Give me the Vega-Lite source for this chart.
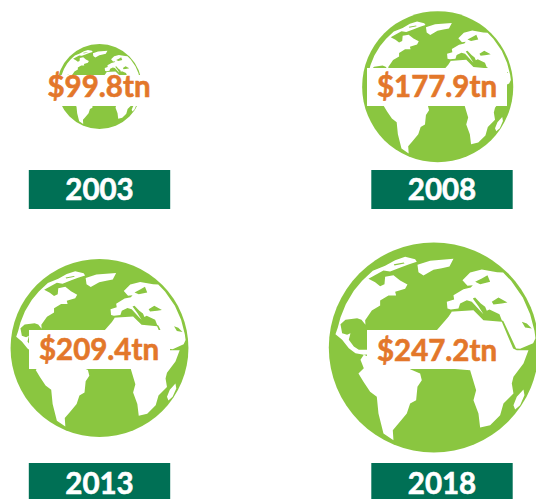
{
"$schema":"https://vega.github.io/schema/vega-lite/v6.json",
"width":536,"height":499,"padding":0,"autosize":"none",
"background":"white",
"view":{"stroke":null},
"data":{"values":[
{"year":2003,"value":99.8,"label":"$99.8tn"},
{"year":2008,"value":177.9,"label":"$177.9tn"},
{"year":2013,"value":209.4,"label":"$209.4tn"},
{"year":2018,"value":247.2,"label":"$247.2tn"}
]},
"layer":[
{"mark":{"type":"point","shape":"circle","filled":true,"fill":"#8AC640","opacity":1},
 "encoding":{
  "x":{"field":"year","type":"quantitative","axis":null,"scale":{"domain":[2003,2008,2013,2018],"range":[99.5,437.7,99.5,433.8]}},
  "y":{"field":"year","type":"quantitative","axis":null,"scale":{"domain":[2003,2008,2013,2018],"range":[86.5,86.7,348,347.5]}},
  "size":{"field":"value","type":"quantitative","legend":null,"scale":{"type":"pow","exponent":2,"domain":[0,247.2],"range":[0,44100]}}
 }},
{"mark":{"type":"point","filled":true,"fill":"white","opacity":1,
  "shape":"M-183,-230 L-146,-245 -116,-262 -86,-272 -56,-265 -51,-257 -76,-249 -100,-240 -131,-228 -151,-231 -196,-206 -176,-196 -161,-184 -148,-190 -146,-212 -121,-217 -101,-201 -79,-189 -86,-176 -116,-167 -113,-156 -136,-156 -161,-141 -161,-126 -186,-111 -206,-82 -205,-68 -217,-83 -230,-88 -265,-83 -280,-70 -275,-43 -260,-38 -250,-43 -255,-23 -240,-3 -225,7 -190,7 -190,30 -210,22 -235,17 -255,2 -275,-23 -295,-40 -288,-60 -280,-90 -264,-130 -240,-170 -215,-200 Z M-120,-250 L-118,-246 -88,-252 -90,-255 Z M-49,-248 L-11,-260 59,-266 47,-243 24,-238 -1,-233 -31,-216 -46,-226 Z M51,-114 L41,-117 39,-137 61,-144 59,-157 89,-175 111,-180 117,-187 101,-185 86,-202 109,-225 144,-234 190,-226 208,-225 232,-200 267,-150 289,-100 302,-50 305,-28 298,-13 259,4 247,3 209,-79 204,-82 197,-100 167,-114 159,-110 154,-122 141,-132 124,-150 117,-147 134,-124 149,-100 139,-110 114,-137 99,-142 79,-132 74,-117 Z M264,-77 L274,-60 294,-57 279,-72 Z M174,-137 L179,-129 204,-132 221,-135 194,-150 Z M124,-197 L139,-190 169,-197 161,-217 144,-207 Z M9,-52 L44,-92 54,-107 49,-107 119,-112 149,-82 204,-77 238,3 249,8 284,8 269,48 239,88 234,108 239,138 209,168 199,203 169,233 139,240 134,198 119,158 127,128 109,68 9,60 Z M269,126 L272,143 259,173 244,186 239,173 249,148 Z M-190,20 L-210,22 -220,37 -210,62 -226,78 -211,103 -191,133 -171,148 -166,198 -151,258 -121,278 -123,248 -106,228 -81,198 -71,168 -53,158 -49,118 -36,98 -41,78 -71,65 -71,50 -190,50 Z"},
 "encoding":{
  "x":{"field":"year","type":"quantitative","axis":null,"scale":{"domain":[2003,2008,2013,2018],"range":[99.5,437.7,99.5,433.8]}},
  "y":{"field":"year","type":"quantitative","axis":null,"scale":{"domain":[2003,2008,2013,2018],"range":[86.5,86.7,348,347.5]}},
  "size":{"field":"value","type":"quantitative","legend":null,"scale":{"type":"pow","exponent":2,"domain":[0,247.2],"range":[0,0.4444]}}
 }},
{"mark":{"type":"point","filled":true,"fill":"white","opacity":1,"size":4},
 "encoding":{
  "x":{"field":"year","type":"quantitative","axis":null,"scale":{"domain":[2003,2008,2013,2018],"range":[99.5,437.7,99.5,433.8]}},
  "y":{"field":"year","type":"quantitative","axis":null,"scale":{"domain":[2003,2008,2013,2018],"range":[86.5,86.7,348,347.5]}},
  "shape":{"field":"year","type":"nominal","legend":null,"scale":{"domain":[2003,2008,2013,2018],"range":[
   "M-49.5,-11.5 L50.5,-11.5 50.5,19.5 -49.5,19.5 Z",
   "M-70.7,-18.7 L69.3,-18.7 69.3,19.3 -70.7,19.3 Z",
   "M-70.5,-18 L70.5,-18 70.5,21 -70.5,21 Z",
   "M-66.8,-17.5 L63.2,-17.5 63.2,21.5 -66.8,21.5 Z"]}}
 }},
{"mark":{"type":"point","filled":true,"fill":"#007055","opacity":1,"size":4,"shape":"M-70.7,-19.5 L70.7,-19.5 70.7,19.5 -70.7,19.5 Z"},
 "encoding":{
  "x":{"field":"year","type":"quantitative","axis":null,"scale":{"domain":[2003,2008,2013,2018],"range":[99.5,442,99.5,442]}},
  "y":{"field":"year","type":"quantitative","axis":null,"scale":{"domain":[2003,2008,2013,2018],"range":[189.5,189.5,482.5,482.5]}}
 }},
{"mark":{"type":"text","font":"Lato","fontWeight":"bold","fontSize":29.5,"fill":"white","stroke":"white","strokeWidth":0.6,"baseline":"middle","align":"center"},
 "encoding":{
  "x":{"field":"year","type":"quantitative","axis":null,"scale":{"domain":[2003,2008,2013,2018],"range":[99.5,442,99.5,442]}},
  "y":{"field":"year","type":"quantitative","axis":null,"scale":{"domain":[2003,2008,2013,2018],"range":[190.5,190.5,484.5,484.5]}},
  "text":{"field":"year","type":"nominal"}
 }},
{"mark":{"type":"text","font":"Lato","fontWeight":"bold","fontSize":29.5,"fill":"#E3772A","stroke":"#E3772A","strokeWidth":0.6,"baseline":"middle","align":"center"},
 "encoding":{
  "x":{"field":"year","type":"quantitative","axis":null,"scale":{"domain":[2003,2008,2013,2018],"range":[99,437,99,437]}},
  "y":{"field":"year","type":"quantitative","axis":null,"scale":{"domain":[2003,2008,2013,2018],"range":[88,88,351,351.5]}},
  "text":{"field":"label","type":"nominal"}
 }}
],
"resolve":{"scale":{"x":"independent","y":"independent","size":"independent"}}
}
